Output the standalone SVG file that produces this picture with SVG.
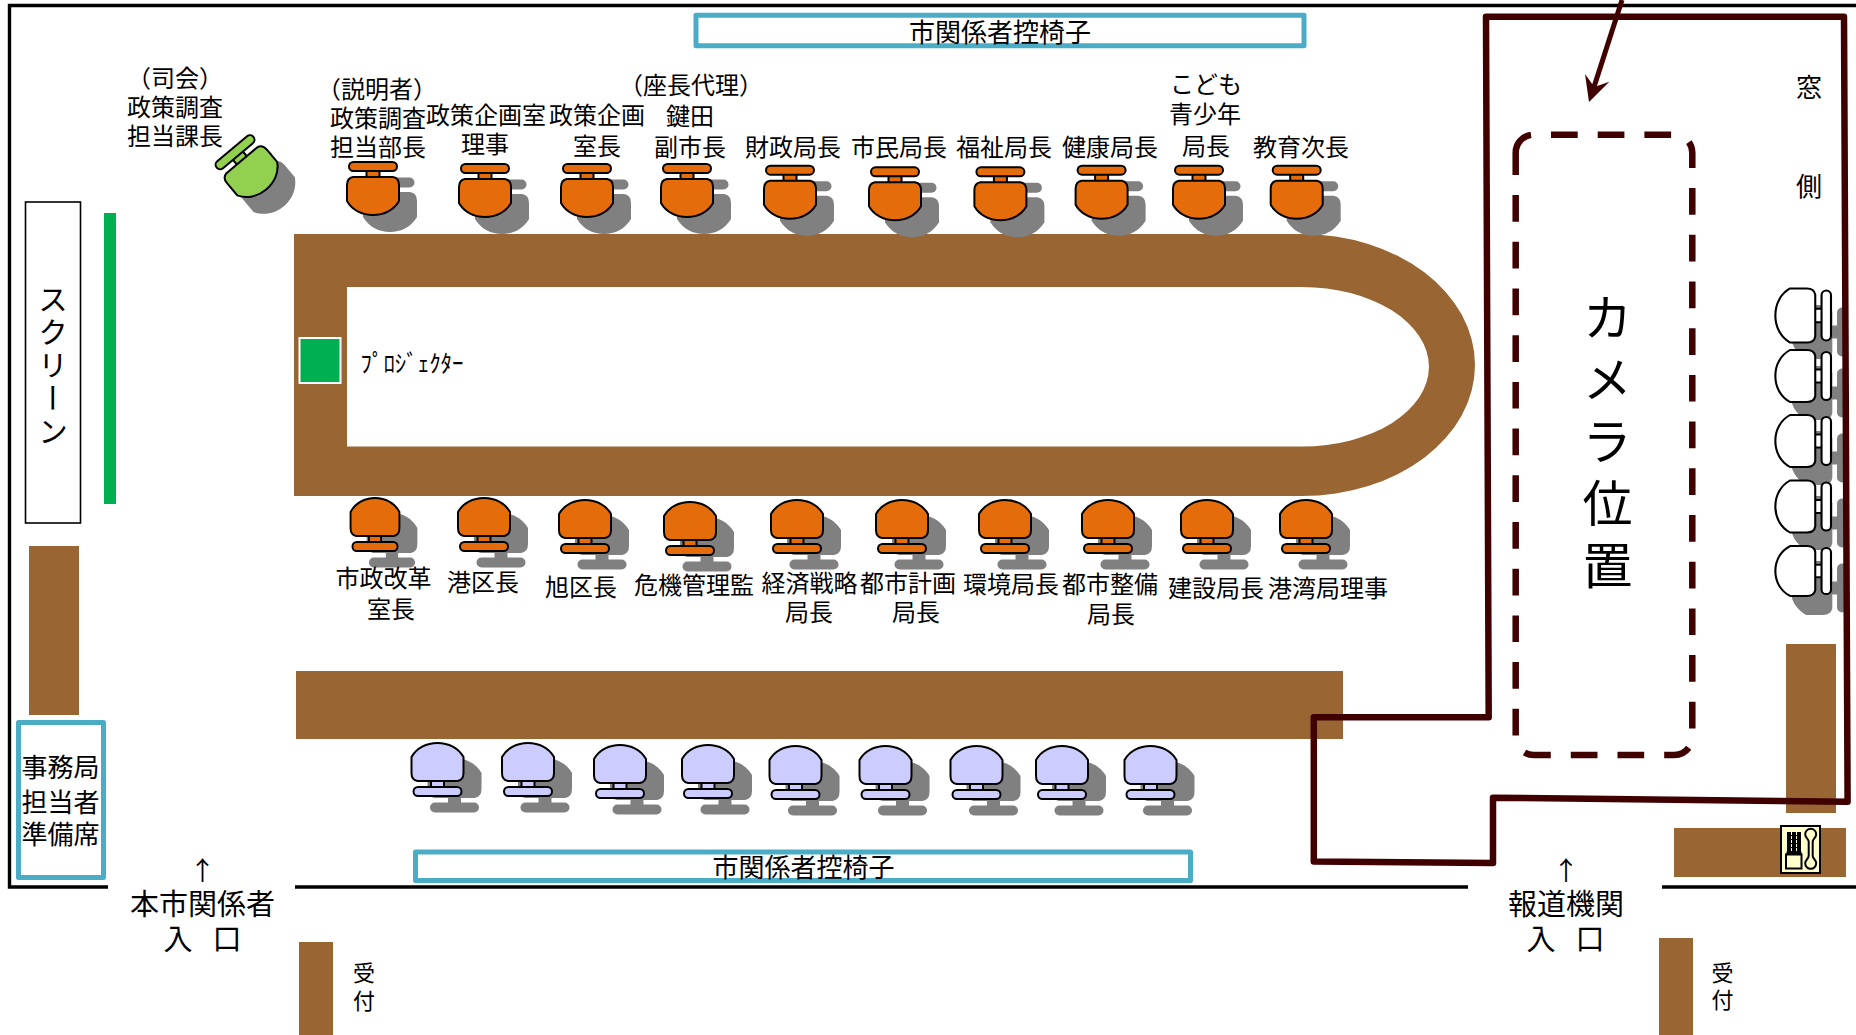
<svg xmlns="http://www.w3.org/2000/svg" width="1856" height="1035" viewBox="0 0 1856 1035">
<style>
text{font-family:"Noto Sans CJK JP","Noto Sans",sans-serif;fill:#000;text-anchor:middle;dominant-baseline:central;transform:translateY(-1.5px)}
.t24{font-size:24px}.t26{font-size:26px}.t29{font-size:29px}.t22{font-size:22px}
.door{letter-spacing:-4.500px}
.vert{writing-mode:vertical-rl;text-anchor:start;transform:none}
.desk{fill:#996633}
.bench{fill:#fff;stroke:#4bacc6;stroke-width:5;stroke-linejoin:round}
.wall{fill:none;stroke:#000;stroke-width:3.4}
.wine{fill:none;stroke:#400000;stroke-width:6.500;stroke-linejoin:round}
.dash{stroke-dasharray:26.7 20}
.orange{fill:#e46c0a}.blue{fill:#ccccff}.green{fill:#92d050}.white{fill:#fff}
.sh{fill:#808080}
</style>
<defs>
<g id="chair" stroke="#000" stroke-width="2">
<rect x="-6.500" y="8" width="13" height="8"/>
<rect x="-24" y="0" width="48" height="9" rx="4.500"/>
<path d="M-20 15H20Q26 16 26 23V39C21 48 11 53 0 53C-11 53-21 48-26 39V23Q-26 16-20 15Z"/>
</g>
<g id="chairShadow" stroke="none">
<rect x="-6.500" y="8" width="13" height="8"/>
<rect x="-24.500" y="-.5" width="49" height="10" rx="5"/>
<path d="M-20 14H20Q27 15 27 23V39C21 49 11 54 0 54C-11 54-21 49-27 39V23Q-27 15-20 14Z"/>
</g>
</defs>

<g id="room">
<path class="wall" d="M108 887H9.500V5.500H1856"/>
<path class="wall" d="M295 887H1468"/>
<path class="wall" d="M1662 887H1856"/>
</g>

<g id="screen">
<rect x="25.500" y="202" width="55" height="321" fill="#fff" stroke="#000" stroke-width="1.600"/>
<rect x="104" y="213" width="12" height="291" fill="#00b050"/>
<text class="vert" x="53" y="284" style="font-size:30px;letter-spacing:3px">スクリーン</text>
</g>

<g id="mainTable">
<path class="desk" d="M294 234H1302A173 131 0 0 1 1302 496H294ZM347 287V446.500H1302A127 79.750 0 0 0 1302 287Z" fill-rule="evenodd"/>
</g>
<g id="projector">
<rect x="299.500" y="338" width="41" height="45" fill="#00b050" stroke="#fff" stroke-width="2"/>
<text x="412" y="363" style="font-size:24px" textLength="103" lengthAdjust="spacingAndGlyphs">ﾌﾟﾛｼﾞｪｸﾀｰ</text>
</g>
<rect id="backTable" class="desk" x="296" y="671" width="1047" height="68"/>
<rect id="leftDesk" class="desk" x="29" y="546" width="50" height="169"/>
<rect id="pressDeskV" class="desk" x="1786" y="644" width="50" height="169"/>
<rect id="pressDeskH" class="desk" x="1674" y="828" width="172" height="49"/>
<rect id="receptionL" class="desk" x="299" y="942" width="34" height="93"/>
<rect id="receptionR" class="desk" x="1659" y="938" width="34" height="97"/>

<g id="benchTop"><rect class="bench" x="696" y="15.200" width="608" height="30.600"/><text class="t26" x="1000" y="32">市関係者控椅子</text></g>
<g id="benchBottom"><rect class="bench" x="415.500" y="852" width="775" height="28.500"/><text class="t26" x="803.500" y="867">市関係者控椅子</text></g>
<g id="secretariat"><rect class="bench" x="18.500" y="722.500" width="85" height="155"/>
<text class="t26" x="60.500" y="767">事務局</text><text class="t26" x="60.500" y="801.500">担当者</text><text class="t26" x="60.500" y="834">準備席</text></g>

<g id="chairs">
<g id="mc"><use href="#chairShadow" class="sh" transform="translate(266.500 185.500) rotate(-40) translate(0 -27)"/><use href="#chair" class="green" transform="translate(249.500 169.500) rotate(-40) translate(0 -27)"/></g>
<g id="ct1"><use href="#chairShadow" class="sh" transform="translate(390 178)"/><use href="#chair" class="orange" transform="translate(373 162)"/></g>
<g id="ct2"><use href="#chairShadow" class="sh" transform="translate(502 180)"/><use href="#chair" class="orange" transform="translate(485 164)"/></g>
<g id="ct3"><use href="#chairShadow" class="sh" transform="translate(604 180)"/><use href="#chair" class="orange" transform="translate(587 164)"/></g>
<g id="ct4"><use href="#chairShadow" class="sh" transform="translate(704 180)"/><use href="#chair" class="orange" transform="translate(687 164)"/></g>
<g id="ct5"><use href="#chairShadow" class="sh" transform="translate(807 181.700)"/><use href="#chair" class="orange" transform="translate(790 165.700)"/></g>
<g id="ct6"><use href="#chairShadow" class="sh" transform="translate(912 183.300)"/><use href="#chair" class="orange" transform="translate(895 167.300)"/></g>
<g id="ct7"><use href="#chairShadow" class="sh" transform="translate(1017.400 183.300)"/><use href="#chair" class="orange" transform="translate(1000.400 167.300)"/></g>
<g id="ct8"><use href="#chairShadow" class="sh" transform="translate(1118.600 181.700)"/><use href="#chair" class="orange" transform="translate(1101.600 165.700)"/></g>
<g id="ct9"><use href="#chairShadow" class="sh" transform="translate(1216 181.700)"/><use href="#chair" class="orange" transform="translate(1199 165.700)"/></g>
<g id="ct10"><use href="#chairShadow" class="sh" transform="translate(1313.700 181.700)"/><use href="#chair" class="orange" transform="translate(1296.700 165.700)"/></g>

<g id="cb1"><use href="#chairShadow" class="sh" transform="translate(392 567) scale(.94 -1)"/><use href="#chair" class="orange" transform="translate(375 551) scale(.94 -1)"/></g>
<g id="cb2"><use href="#chairShadow" class="sh" transform="translate(501 567) scale(1 -1)"/><use href="#chair" class="orange" transform="translate(484 551) scale(1 -1)"/></g>
<g id="cb3"><use href="#chairShadow" class="sh" transform="translate(602 569) scale(1 -1)"/><use href="#chair" class="orange" transform="translate(585 553) scale(1 -1)"/></g>
<g id="cb4"><use href="#chairShadow" class="sh" transform="translate(707 571) scale(1 -1)"/><use href="#chair" class="orange" transform="translate(690 555) scale(1 -1)"/></g>
<g id="cb5"><use href="#chairShadow" class="sh" transform="translate(814 569) scale(1 -1)"/><use href="#chair" class="orange" transform="translate(797 553) scale(1 -1)"/></g>
<g id="cb6"><use href="#chairShadow" class="sh" transform="translate(919 569) scale(1 -1)"/><use href="#chair" class="orange" transform="translate(902 553) scale(1 -1)"/></g>
<g id="cb7"><use href="#chairShadow" class="sh" transform="translate(1022 569) scale(1 -1)"/><use href="#chair" class="orange" transform="translate(1005 553) scale(1 -1)"/></g>
<g id="cb8"><use href="#chairShadow" class="sh" transform="translate(1125 569) scale(1 -1)"/><use href="#chair" class="orange" transform="translate(1108 553) scale(1 -1)"/></g>
<g id="cb9"><use href="#chairShadow" class="sh" transform="translate(1224 569) scale(1 -1)"/><use href="#chair" class="orange" transform="translate(1207 553) scale(1 -1)"/></g>
<g id="cb10"><use href="#chairShadow" class="sh" transform="translate(1323 569) scale(1 -1)"/><use href="#chair" class="orange" transform="translate(1306 553) scale(1 -1)"/></g>

<g id="cc1"><use href="#chairShadow" class="sh" transform="translate(454.500 812) scale(1 -1)"/><use href="#chair" class="blue" transform="translate(437.500 796) scale(1 -1)"/></g>
<g id="cc2"><use href="#chairShadow" class="sh" transform="translate(545 812) scale(1 -1)"/><use href="#chair" class="blue" transform="translate(528 796) scale(1 -1)"/></g>
<g id="cc3"><use href="#chairShadow" class="sh" transform="translate(637 814) scale(1 -1)"/><use href="#chair" class="blue" transform="translate(620 798) scale(1 -1)"/></g>
<g id="cc4"><use href="#chairShadow" class="sh" transform="translate(725 814) scale(1 -1)"/><use href="#chair" class="blue" transform="translate(708 798) scale(1 -1)"/></g>
<g id="cc5"><use href="#chairShadow" class="sh" transform="translate(812.500 815) scale(1 -1)"/><use href="#chair" class="blue" transform="translate(795.500 799) scale(1 -1)"/></g>
<g id="cc6"><use href="#chairShadow" class="sh" transform="translate(902.500 815) scale(1 -1)"/><use href="#chair" class="blue" transform="translate(885.500 799) scale(1 -1)"/></g>
<g id="cc7"><use href="#chairShadow" class="sh" transform="translate(993.500 815) scale(1 -1)"/><use href="#chair" class="blue" transform="translate(976.500 799) scale(1 -1)"/></g>
<g id="cc8"><use href="#chairShadow" class="sh" transform="translate(1079 815) scale(1 -1)"/><use href="#chair" class="blue" transform="translate(1062 799) scale(1 -1)"/></g>
<g id="cc9"><use href="#chairShadow" class="sh" transform="translate(1167.500 815) scale(1 -1)"/><use href="#chair" class="blue" transform="translate(1150.500 799) scale(1 -1)"/></g>

<g id="cw1"><use href="#chairShadow" class="sh" transform="translate(1847 332) rotate(90) scale(1 1.05)"/></g>
<g id="cw2"><use href="#chairShadow" class="sh" transform="translate(1847 393) rotate(90) scale(1 1.05)"/></g>
<g id="cw3"><use href="#chairShadow" class="sh" transform="translate(1847 458) rotate(90) scale(1 1.05)"/></g>
<g id="cw4"><use href="#chairShadow" class="sh" transform="translate(1847 523) rotate(90) scale(1 1.05)"/></g>
<g id="cw5"><use href="#chairShadow" class="sh" transform="translate(1847 588) rotate(90) scale(1 1.05)"/></g>
<use href="#chair" class="white" transform="translate(1831 315.500) rotate(90) scale(1.04 1.05)"/>
<use href="#chair" class="white" transform="translate(1831 376) rotate(90) scale(1 1.05)"/>
<use href="#chair" class="white" transform="translate(1831 441) rotate(90) scale(1 1.05)"/>
<use href="#chair" class="white" transform="translate(1831 506.500) rotate(90) scale(1 1.05)"/>
<use href="#chair" class="white" transform="translate(1831 571) rotate(90) scale(.96 1.05)"/>
</g>

<g id="phone">
<rect x="1781" y="826" width="39" height="47" fill="#ffffcc" stroke="#000" stroke-width="2"/>
<path d="M1787 832H1801V851L1802 854H1786L1787 851Z" fill="#000"/>
<path d="M1791.500 832V851M1796.500 832V851" stroke="#ffffcc" stroke-width="1" stroke-dasharray="3 1"/>
<rect x="1786" y="854.500" width="15.500" height="14" fill="#ffffcc" stroke="#000" stroke-width="2"/>
<path d="M1805.200 834.300a5.500 5.500 0 0 1 11 0c0 3.500-3.500 4.500-3.500 7.500v14c0 3 3.500 4 3.500 7.500a5.500 5.500 0 0 1-11 0c0-3.500 3.500-4.500 3.500-7.500v-14c0-3-3.500-4-3.500-7.500Z" fill="#ffffcc" stroke="#000" stroke-width="2"/>
</g>

<g id="labels">
<text class="t24" x="175" y="78">（司会）</text><text class="t24" x="175" y="107">政策調査</text><text class="t24" x="175" y="136">担当課長</text>
<text class="t24" x="377" y="89">（説明者）</text><text class="t24" x="378" y="118">政策調査</text><text class="t24" x="378" y="147">担当部長</text>
<text class="t24" x="486" y="115">政策企画室</text><text class="t24" x="485" y="144">理事</text>
<text class="t24" x="597" y="115">政策企画</text><text class="t24" x="597" y="146">室長</text>
<text class="t24" x="691" y="85">（座長代理）</text><text class="t24" x="690" y="116">鍵田</text><text class="t24" x="690" y="147">副市長</text>
<text class="t24" x="793" y="147">財政局長</text><text class="t24" x="899" y="147">市民局長</text><text class="t24" x="1004" y="147">福祉局長</text><text class="t24" x="1110" y="147">健康局長</text>
<text class="t24" x="1206" y="84">こども</text><text class="t24" x="1205" y="114">青少年</text><text class="t24" x="1206" y="146">局長</text>
<text class="t24" x="1301" y="147">教育次長</text>
<text class="t24" x="383.500" y="578">市政改革</text><text class="t24" x="391" y="609">室長</text>
<text class="t24" x="483" y="582">港区長</text><text class="t24" x="581" y="587">旭区長</text><text class="t24" x="694" y="585">危機管理監</text>
<text class="t24" x="809.500" y="583">経済戦略</text><text class="t24" x="809" y="612">局長</text>
<text class="t24" x="908" y="583">都市計画</text><text class="t24" x="916" y="612">局長</text>
<text class="t24" x="1011" y="584">環境局長</text>
<text class="t24" x="1110" y="584">都市整備</text><text class="t24" x="1111" y="614">局長</text>
<text class="t24" x="1216" y="588">建設局長</text><text class="t24" x="1328" y="588">港湾局理事</text>
<text class="t26" x="1809" y="87">窓</text><text class="t26" x="1809" y="186">側</text>
<text class="vert" x="1607.500" y="292" style="font-size:50px;letter-spacing:12px">カメラ位置</text>
<text class="t26" x="202.500" y="870">↑</text><text class="t29" x="202.500" y="903">本市関係者</text><text class="t29 door" x="200.250" y="938">入　口</text>
<text class="t26" x="1566" y="870">↑</text><text class="t29" x="1566" y="903">報道機関</text><text class="t29 door" x="1563.250" y="938">入　口</text>
<text class="t22" x="364" y="972">受</text><text class="t22" x="364" y="1000.500">付</text>
<text class="t22" x="1722.500" y="972">受</text><text class="t22" x="1722.500" y="999.500">付</text>
</g>

<g id="connectors">
<path class="wine" d="M1488.700 717.300L1486 16.700H1844L1847.600 801.700L1493 797.700V863L1313.800 861.500V717.300Z"/>
<path class="wine dash" d="M1551 134.700H1674.300A18 18 0 0 1 1692.300 152.700V737A18 18 0 0 1 1674.300 755H1533.700A18 18 0 0 1 1515.700 737V175"/>
<path class="wine" d="M1515.700 175V152.700A18 18 0 0 1 1531 134.900"/>
<path d="M1622 0L1594 87" fill="none" stroke="#400000" stroke-width="5"/>
<path d="M1589 102L1585 74L1594.300 87L1609.300 81.700Z" fill="#400000"/>
</g>
</svg>
